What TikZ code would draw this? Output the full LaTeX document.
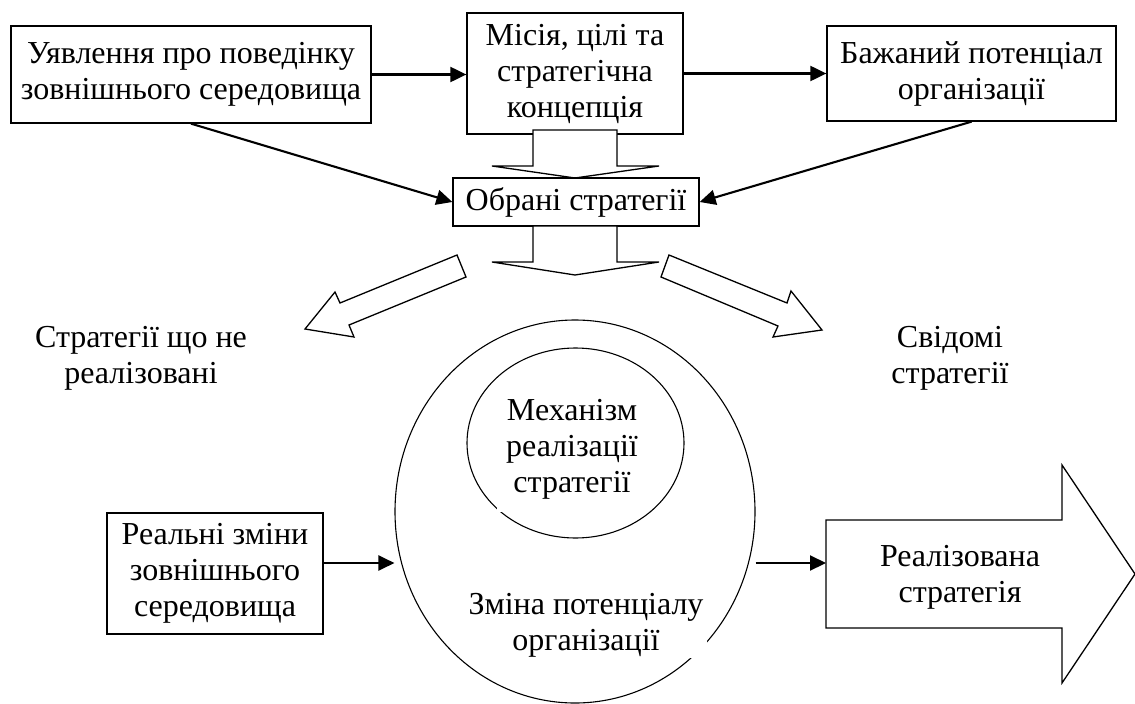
\documentclass[tikz,border=0pt]{standalone}
\usepackage{fontspec}
\setmainfont{Liberation Serif}
\usetikzlibrary{arrows.meta,calc,shapes.geometric}

\begin{document}
\begin{tikzpicture}[x=1pt,y=-1pt,
  every node/.style={font=\fontsize{32}{36}\selectfont},
  box/.style={draw, line width=1.3pt, align=center, inner sep=0pt, fill=white},
  lbl/.style={align=center, inner sep=0pt},
  conn/.style={line width=2.1pt, -{Triangle[length=16pt,width=15pt]}},
  blockarrow/.style={draw, fill=white, line width=1.3pt, line join=miter},
  ring/.style={draw, ellipse, line width=1.1pt, inner sep=0pt}]

\useasboundingbox (0,0) rectangle (1135,704);

% top row of boxes
\node[box, minimum width=360pt, minimum height=97pt] (A) at (191,74.5)
  {Уявлення про поведінку\\зовнішнього середовища};
\node[box, minimum width=216pt, minimum height=121pt] (B) at (575,73.5)
  {Місія, цілі та\\стратегічна\\концепція};
\node[box, minimum width=289pt, minimum height=95pt] (C) at (971.5,73.5)
  {Бажаний потенціал\\організації};

% wide arrow from the mission box down to the chosen strategies
\draw[blockarrow] (533,130) -- (533,166) -- (492,166) -- (575,178)
  -- (659,166) -- (617,166) -- (617,130) -- cycle;

\node[box, minimum width=246pt, minimum height=48pt] (D) at (576,202)
  {Обрані стратегії};

% wide arrow below the chosen strategies
\draw[blockarrow] (533,226) -- (533,262) -- (492,262) -- (575,275)
  -- (659,262) -- (617,262) -- (617,226) -- cycle;

% slanted wide arrows
\draw[blockarrow] (457,255) -- (340,303) -- (335,292) -- (305,329)
  -- (354,337) -- (349,325) -- (466,277) -- cycle;
\draw[blockarrow] (669,255) -- (787,303) -- (791,291) -- (822,330)
  -- (773,337) -- (778,326) -- (661,277) -- cycle;

\node[lbl] (NR) at (141,358) {Стратегії що не\\реалізовані};
\node[lbl] (SV) at (950,358) {Свідомі\\стратегії};

% implementation circles
\node[ring, minimum width=360pt, minimum height=383pt] (O) at (575,511.5) {};
\node[ring, minimum width=217pt, minimum height=190pt] (I) at (575.5,443) {};
\node[lbl, fill=white, minimum width=150pt, minimum height=126pt] (MT) at (572,449)
  {Механізм\\реалізації\\стратегії};
\node[lbl, fill=white, minimum width=242pt, minimum height=66pt] (ZT) at (586,625)
  {Зміна потенціалу\\організації};

\node[box, minimum width=216pt, minimum height=121pt] (E) at (215,573.5)
  {Реальні зміни\\зовнішнього\\середовища};

% realised strategy arrow
\draw[blockarrow] (826,520) -- (1062,520) -- (1062,465) -- (1135,574)
  -- (1062,683) -- (1062,628) -- (826,628) -- cycle;
\node[lbl] (F) at (960,577) {Реалізована\\стратегія};
\coordinate (Fw) at (826,563);
\coordinate (row) at (0,563);

% connectors
\draw[conn] (A.east) -- (A.east -| B.west);
\draw[conn] (B.east) -- (C.west);
\draw[conn] (A.south) -- (D.west);
\draw[conn] (C.south) -- (D.east);
\draw[conn] (E.east |- row) -- (O.west |- row);
\draw[conn] (O.east |- row) -- (Fw);

\end{tikzpicture}
\end{document}
